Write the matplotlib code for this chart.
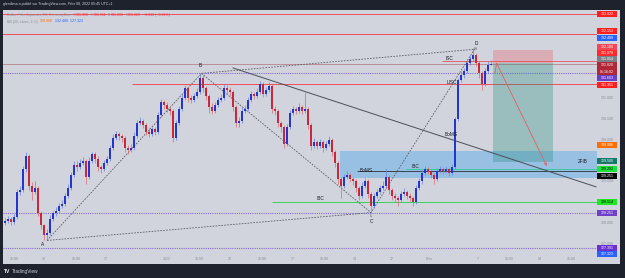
import matplotlib
matplotlib.use('Agg')
import matplotlib.pyplot as plt
import matplotlib.transforms as mtrans
from matplotlib.patches import Rectangle

plt.rcParams['font.family'] = ['Liberation Sans', 'DejaVu Sans']

# USD/JPY 60 min - closes / highs / lows
first_open = 128.00
closes = [128.05, 128.10, 128.02, 128.15, 128.75, 128.80, 129.30, 129.60, 128.90, 128.75,
          128.85, 128.25, 127.95, 127.70, 127.75, 128.10, 128.25, 128.30, 128.40, 128.45,
          128.65, 128.85, 129.15, 129.40, 129.35, 129.45, 129.50, 129.10, 129.50, 129.65,
          129.55, 129.35, 129.30, 129.45, 129.55, 129.80, 130.05, 130.15, 130.10, 130.05,
          129.80, 129.75, 129.80, 130.10, 130.40, 130.45, 130.35, 130.20, 130.15, 130.25,
          130.20, 130.60, 130.90, 130.85, 130.75, 130.70, 130.05, 130.40, 130.75, 131.00,
          131.25, 131.00, 130.95, 131.05, 131.15, 131.50, 131.25, 131.05, 130.80, 130.70,
          130.85, 130.95, 131.00, 131.25, 131.20, 131.15, 130.80, 130.40, 130.45, 130.70,
          130.75, 130.95, 131.10, 131.05, 131.15, 131.35, 131.10, 131.20, 131.30, 130.75,
          130.70, 130.40, 130.30, 129.90, 130.30, 130.65, 130.75, 130.70, 130.80, 130.70,
          130.75, 130.35, 129.85, 129.95, 129.85, 129.95, 129.80, 129.90, 130.00, 129.70,
          129.45, 129.05, 128.90, 129.10, 129.15, 129.05, 129.00, 128.85, 128.65, 128.90,
          129.00, 128.70, 128.40, 128.65, 128.75, 128.85, 128.90, 129.10, 128.80, 128.65,
          128.60, 128.55, 128.70, 128.75, 128.65, 128.60, 128.50, 128.85, 129.00, 129.20,
          129.30, 129.25, 129.15, 129.05, 129.25, 129.30, 129.25, 129.30, 129.20, 129.35,
          130.50, 131.45, 131.55, 131.65, 131.85, 131.95, 132.05, 131.85, 131.60, 131.35,
          131.65, 131.80, 131.82]
highs = [128.12, 128.18, 128.14, 128.22, 128.82, 128.90, 129.38, 129.72, 129.65, 128.98,
         129.00, 128.90, 128.30, 127.98, 127.85, 128.20, 128.30, 128.38, 128.48, 128.55,
         128.72, 128.95, 129.22, 129.48, 129.50, 129.55, 129.58, 129.55, 129.58, 129.72,
         129.70, 129.60, 129.40, 129.52, 129.62, 129.88, 130.15, 130.22, 130.20, 130.15,
         130.10, 129.88, 129.90, 130.18, 130.48, 130.55, 130.50, 130.40, 130.28, 130.32,
         130.30, 130.68, 130.98, 130.95, 130.92, 130.80, 130.75, 130.48, 130.82, 131.10,
         131.32, 131.30, 131.08, 131.12, 131.25, 131.62, 131.55, 131.30, 131.10, 130.88,
         130.92, 131.02, 131.10, 131.35, 131.32, 131.28, 131.20, 130.85, 130.55, 130.78,
         130.85, 131.02, 131.18, 131.15, 131.25, 131.42, 131.40, 131.28, 131.40, 131.35,
         130.82, 130.75, 130.45, 130.35, 130.38, 130.72, 130.82, 130.80, 130.88, 130.85,
         131.15, 130.80, 130.40, 130.05, 130.00, 130.02, 130.00, 129.98, 130.10, 130.05,
         129.75, 129.50, 129.10, 129.18, 129.25, 129.20, 129.10, 129.05, 128.90, 128.98,
         129.08, 129.05, 128.75, 128.72, 128.82, 128.92, 129.00, 129.30, 129.15, 128.85,
         128.72, 128.65, 128.78, 128.85, 128.80, 128.72, 128.65, 128.92, 129.08, 129.28,
         129.38, 129.35, 129.30, 129.20, 129.32, 129.38, 129.35, 129.38, 129.35, 129.42,
         130.55, 131.50, 131.65, 131.72, 131.92, 132.02, 132.20, 132.10, 131.90, 131.65,
         131.72, 131.90, 131.91]
lows = [127.95, 128.00, 127.96, 127.98, 128.10, 128.68, 128.75, 129.22, 128.80, 128.55,
        128.70, 128.18, 127.85, 127.58, 127.62, 127.72, 128.05, 128.18, 128.25, 128.35,
        128.40, 128.60, 128.80, 129.10, 129.25, 129.30, 129.40, 128.95, 129.05, 129.45,
        129.45, 129.25, 129.20, 129.25, 129.40, 129.50, 129.75, 130.00, 130.00, 129.95,
        129.70, 129.65, 129.70, 129.75, 130.05, 130.35, 130.28, 130.12, 130.08, 130.10,
        130.12, 130.15, 130.55, 130.75, 130.68, 130.60, 129.95, 130.00, 130.35, 130.70,
        130.95, 130.92, 130.88, 130.90, 131.00, 131.10, 131.15, 130.95, 130.65, 130.62,
        130.65, 130.80, 130.90, 130.95, 131.10, 131.05, 130.70, 130.30, 130.30, 130.40,
        130.65, 130.70, 130.90, 130.98, 131.00, 131.10, 131.02, 131.05, 131.15, 130.65,
        130.60, 130.30, 130.20, 129.80, 129.85, 130.25, 130.60, 130.62, 130.65, 130.62,
        130.65, 130.25, 129.75, 129.80, 129.78, 129.80, 129.72, 129.75, 129.85, 129.60,
        129.35, 128.95, 128.60, 128.85, 129.05, 128.98, 128.92, 128.75, 128.55, 128.60,
        128.85, 128.60, 128.25, 128.35, 128.60, 128.70, 128.80, 128.85, 128.70, 128.55,
        128.50, 128.42, 128.50, 128.65, 128.58, 128.52, 128.42, 128.45, 128.80, 128.95,
        129.15, 129.18, 129.08, 128.95, 129.00, 129.20, 129.18, 129.20, 129.12, 129.15,
        129.30, 130.45, 131.40, 131.50, 131.60, 131.80, 131.90, 131.78, 131.50, 131.20,
        131.30, 131.60, 131.80]

# drawings (bar index, price)
pattern_x = [14, 65.5, 122, 156.5]          # A B C D
pattern_y = [127.58, 131.60, 128.25, 132.18]
trend_x = [76, 197]
trend_y = [131.73, 128.87]

full_red = [133.02, 132.553]
purple_dotted = [131.603, 128.251, 127.391]
last_price = 131.82
lisc_level, lisc_from = 131.351, 42.3
isc_level, isc_from = 131.90, 145.7
green_level, green_from = 128.514, 89
boms_level, boms_from = 129.251, 117.3
ibc_level, ibc_from = 129.292, 133.7
zone_x0, zone_lo, zone_hi = 111.7, 129.09, 129.73
short_x = [162.6, 182.6]
short_stop, short_entry, short_target = 132.16, 131.86, 129.47
arrow_x = [163.3, 163.9, 180.6]
arrow_y = [131.62, 131.84, 129.37]

notes = [('ISC', 148.3, 131.95), ('LISC', 149.0, 131.37), ('BoMS', 148.7, 130.12),
         ('BoMS', 120.3, 129.27), ('IBC', 136.7, 129.35), ('IBC', 105.0, 128.58),
         ('2FIB', 192.7, 129.47)]

# price scale
scale_labels = [131.0, 130.5, 130.0, 129.0, 128.0, 127.5]
tags = [('133.022', 133.03, '#ff1e1e', 'white'), ('132.553', 132.62, '#ff1e1e', 'white'),
        ('132.489', 132.46, '#2962ff', 'white'), ('132.180', 132.23, '#f04656', 'white'),
        ('131.970', 132.09, '#ff2a2a', 'white'), ('131.854', 131.95, '#7d7f88', 'white'),
        ('131.603', 131.49, '#6a3fc8', 'white'), ('131.351', 131.33, '#ff1e1e', 'white'),
        ('129.906', 129.88, '#ff6d00', 'white'), ('129.500', 129.48, '#137a6a', 'white'),
        ('129.292', 129.29, '#1ee23c', 'black'), ('129.251', 129.13, '#0a0a0a', 'white'),
        ('128.514', 128.50, '#22e622', 'black'), ('128.251', 128.25, '#7040c8', 'white'),
        ('127.391', 127.39, '#6a30d0', 'white'), ('127.323', 127.26, '#2962ff', 'white')]

time_pos = [3, 13, 23.7, 33.7, 54, 64.7, 75, 85.7, 96, 106.3, 116.7, 129, 141.3,
            157.7, 168, 178.3, 188.7]
time_labels = ['15:00', '30', '15:00', '17', '2022', '15:00', '10', '15:00', '17',
               '15:00', '14', '27', 'Févr', '7', '15:00', '14', '15:00']

W, H = 625, 278
fig = plt.figure(figsize=(W / 100, H / 100), dpi=100, facecolor='#1e222d')
fig.patches.append(Rectangle((3 / W, 1 - 264 / H), 617 / W, 254 / H,
                             transform=fig.transFigure, fc='#d1d4dc', ec='none', zorder=-5))

ax = fig.add_axes([3 / W, 1 - 252 / H, 594 / W, 242 / H])
ax.set_facecolor('none')
ax.set_xlim(-0.667, 197.33)
ax.set_ylim(127.302, 133.125)
ax.axis('off')

# horizontal levels
for lv in full_red:
    ax.axhline(lv, color='#f0505a', lw=0.7, zorder=1)
for lv in purple_dotted:
    ax.axhline(lv, color='#8a6ad8', lw=0.8, ls=(0, (1, 1)), zorder=1)
ax.axhline(last_price, color='#b8828c', lw=0.6, zorder=1)
ax.hlines(lisc_level, lisc_from, 197.33, color='#f0505a', lw=0.7, zorder=1)
ax.hlines(isc_level, isc_from, 197.33, color='#f0505a', lw=0.6, zorder=1)
ax.hlines(green_level, green_from, 197.33, color='#3ad25a', lw=0.7, zorder=1)

# zones
ax.add_patch(Rectangle((zone_x0, zone_lo), 197.33 - zone_x0, zone_hi - zone_lo,
                       fc='#2196f3', alpha=0.32, ec='none', zorder=1))
ax.hlines(ibc_level, ibc_from, 197.33, color='#3cc8a0', lw=0.7, zorder=2)
ax.hlines(boms_level, boms_from, 197.33, color='#3a4450', lw=0.7, zorder=2)
ax.add_patch(Rectangle((short_x[0], short_entry), short_x[1] - short_x[0],
                       short_stop - short_entry, fc='#f23645', alpha=0.25, ec='none', zorder=1))
ax.add_patch(Rectangle((short_x[0], short_target), short_x[1] - short_x[0],
                       short_entry - short_target, fc='#1c8a7a', alpha=0.3, ec='none', zorder=1))

# pattern lines
dash = dict(color='#5a5d66', lw=0.6, ls=(0, (2, 1.5)), zorder=2)
ax.plot(pattern_x, pattern_y, **dash)
ax.plot([pattern_x[0], pattern_x[2]], [pattern_y[0], pattern_y[2]], **dash)
ax.plot([pattern_x[1], pattern_x[3]], [pattern_y[1], pattern_y[3]], **dash)
ax.plot(trend_x, trend_y, color='#4a4e58', lw=0.7, zorder=2)

# candles
opens = [first_open] + closes[:-1]
idx = list(range(len(closes)))
up = [c >= o for o, c in zip(opens, closes)]
body_col = ['#2337d0' if u else '#c8283a' for u in up]
wick_col = ['#6f7fe0' if u else '#d86a78' for u in up]
ax.vlines(idx, lows, highs, colors=wick_col, lw=0.5, zorder=3)
ax.bar(idx, [abs(c - o) for o, c in zip(opens, closes)],
       bottom=[min(o, c) for o, c in zip(opens, closes)],
       width=0.6, color=body_col, lw=0, zorder=4)

# short arrow
ax.plot(arrow_x[:2], arrow_y[:2], color='#e0606c', lw=0.6, zorder=5)
ax.annotate('', xy=(arrow_x[2], arrow_y[2]), xytext=(arrow_x[1], arrow_y[1]),
            arrowprops=dict(arrowstyle='->', color='#e0606c', lw=0.6,
                            shrinkA=0, shrinkB=0, mutation_scale=4), zorder=5)

# labels
lab = dict(fontsize=3.4, color='#131722', ha='center', va='center', zorder=6)
ax.text(pattern_x[0] - 1.5, pattern_y[0] - 0.1, 'A', **lab)
ax.text(pattern_x[1] - 0.5, pattern_y[1] + 0.18, 'B', **lab)
ax.text(pattern_x[2] + 0.3, pattern_y[2] - 0.21, 'C', **lab)
ax.text(pattern_x[3] + 0.5, pattern_y[3] + 0.13, 'D', **lab)
ax.text(pattern_x[2], pattern_y[2] - 0.07, 'LL', fontsize=2.2, color='#555', ha='center', va='center')
ax.text(pattern_x[3] + 0.5, pattern_y[3] + 0.01, 'HH', fontsize=2.2, color='#555', ha='center', va='center')
for s, x, y in notes:
    ax.text(x, y, s, **lab)

# price scale
ptr = mtrans.blended_transform_factory(fig.transFigure, ax.transData)
for p in scale_labels:
    fig.text(607 / W, p, f'{p:.3f}', transform=ptr, fontsize=2.6, color='#8a8d96',
             ha='center', va='center')
th = 6 / 41.56
for s, y, fc, tc in tags:
    fig.patches.append(Rectangle((597 / W, y - th / 2), 20 / W, th, transform=ptr,
                                 fc=fc, ec='none', zorder=5))
    fig.text(607 / W, y, s, transform=ptr, fontsize=2.6, color=tc,
             ha='center', va='center', zorder=6)
cur_y = 131.72
fig.patches.append(Rectangle((597 / W, cur_y - 0.155), 20 / W, 0.31, transform=ptr,
                             fc='#b02838', ec='none', zorder=5))
fig.text(607 / W, cur_y + 0.07, '131.820', transform=ptr, fontsize=2.6, color='white',
         ha='center', va='center', zorder=6)
fig.text(607 / W, cur_y - 0.08, '01:16:02', transform=ptr, fontsize=2.6, color='white',
         ha='center', va='center', zorder=6)

# time axis
ttr = mtrans.blended_transform_factory(ax.transData, fig.transFigure)
for p, s in zip(time_pos, time_labels):
    fig.text(p, 1 - 259 / H, s, transform=ttr, fontsize=2.6, color='#8a8d96',
             ha='center', va='center')

# header + legend
fig.text(3 / W, 1 - 4.5 / H, 'glenilima a publié sur TradingView.com, Févr 08, 2022 05:45 UTC+1',
         fontsize=2.6, color='#d1d4dc', va='center')


def chain(x, y, parts):
    t = fig.text(x, y, parts[0][0], color=parts[0][1], fontsize=2.6, va='bottom')
    for s, c in parts[1:]:
        t = fig.add_artist(matplotlib.text.Annotation(
            s, xy=(1, 0), xycoords=t, color=c, fontsize=2.6, va='bottom'))
    return t


red = '#f23645'
grey = '#8a8d96'
chain(7 / W, 1 - 17.3 / H, [('Dollar / Yen Japonais, 60, CurrencyCom  O', grey), ('131.850', red),
                            ('  H', grey), ('131.911', red), ('  B', grey), ('131.808', red),
                            ('  C', grey), ('131.820', red), ('  \u22120.030 (\u22120.02%)', red)])
chain(7 / W, 1 - 23.5 / H, [('BB (20, close, 2, 0)  ', grey), ('129.906', '#ff6d00'),
                            ('  132.489', '#2962ff'), ('  127.323', '#2962ff')])

# footer logo
fig.text(4 / W, 1 - 271.5 / H, 'TV', fontsize=3.6, fontweight='bold', color='white', va='center')
fig.text(12 / W, 1 - 271.5 / H, 'TradingView', fontsize=3.4, color='#d1d4dc', va='center')

fig.savefig('out.png', dpi=100, facecolor=fig.get_facecolor())
